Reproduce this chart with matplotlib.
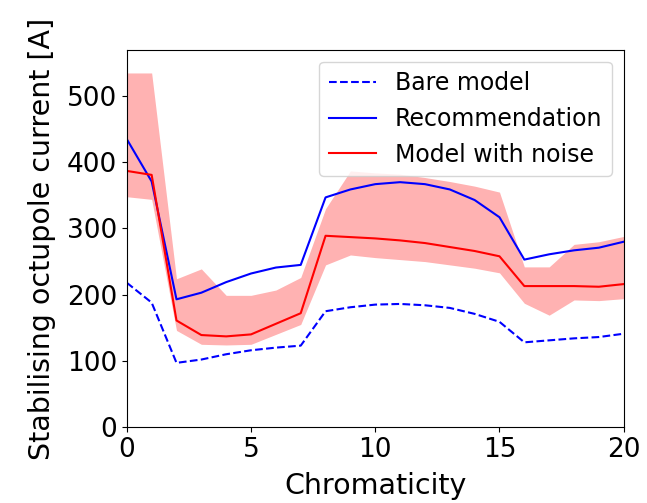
import numpy as np
import matplotlib
matplotlib.use("Agg")
import matplotlib.pyplot as plt

# chromaticity scan, one point per integer value
chroma = np.arange(0, 21)

# octupole current needed for stability [A]
bare_model = [218, 188, 97, 102, 110, 116, 120, 123, 175, 181, 185, 186, 184, 180,
              171, 159, 128, 131, 134, 136, 141]
recommendation = [435, 371, 193, 203, 219, 232, 241, 245, 347, 359, 367, 370, 367, 359,
                  343, 317, 253, 261, 267, 271, 280]
noise_mean = [387, 381, 161, 139, 137, 140, 156, 172, 289, 287, 285, 282, 278, 272,
              266, 258, 213, 213, 213, 212, 216]
noise_upper = [535, 535, 224, 239, 199, 199, 207, 226, 330, 387, 384, 382, 377, 371,
               364, 355, 242, 242, 276, 280, 288]
noise_lower = [348, 344, 146, 125, 124, 125, 140, 155, 245, 260, 256, 253, 250, 245,
               240, 233, 187, 169, 192, 191, 194]

fig = plt.figure(figsize=(6.47, 5.03), dpi=100)
ax = fig.add_axes([0.196, 0.151, 0.768, 0.750])

ax.fill_between(chroma, noise_lower, noise_upper, color="red", alpha=0.3, linewidth=0)
ax.plot(chroma, bare_model, "b--", label="Bare model")
ax.plot(chroma, recommendation, "b-", label="Recommendation")
ax.plot(chroma, noise_mean, "r-", label="Model with noise")

ax.set_xlim(0, 20)
ax.set_ylim(0, 570)
ax.set_xticks([0, 5, 10, 15, 20])
ax.set_yticks([0, 100, 200, 300, 400, 500])
ax.tick_params(labelsize=19)
ax.set_xlabel("Chromaticity", fontsize=20.5, labelpad=7)
ax.set_ylabel("Stabilising octupole current [A]", fontsize=20.5, labelpad=8)
ax.legend(loc="upper right", fontsize=17)

fig.savefig("out.png", dpi=100)
